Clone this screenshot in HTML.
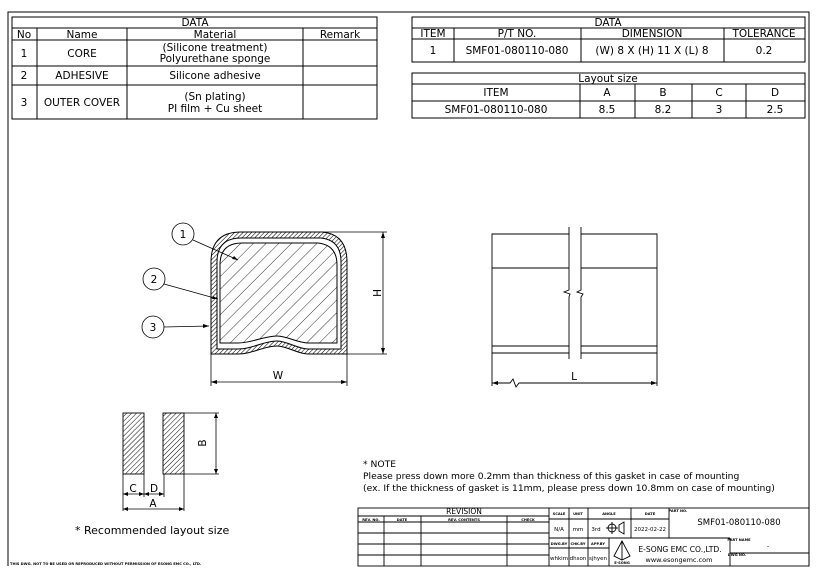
<!DOCTYPE html>
<html><head><meta charset="utf-8"><style>
html,body{margin:0;padding:0;background:#fff;}
svg{display:block;}
text{font-family:"DejaVu Sans","Liberation Sans",sans-serif;fill:#000;}
</style></head><body>
<svg width="820" height="568" viewBox="0 0 820 568" xmlns="http://www.w3.org/2000/svg">
<defs>
<pattern id="fine" patternUnits="userSpaceOnUse" width="3" height="3" patternTransform="rotate(45)">
<line x1="0" y1="0" x2="0" y2="3" stroke="#000" stroke-width="1.1"/></pattern>
<pattern id="wide" patternUnits="userSpaceOnUse" width="9" height="9" patternTransform="rotate(45)">
<line x1="0" y1="0" x2="0" y2="9" stroke="#000" stroke-width="0.8"/></pattern>
<pattern id="pad" patternUnits="userSpaceOnUse" width="3.5" height="3.5" patternTransform="rotate(45)">
<line x1="0" y1="0" x2="0" y2="3.5" stroke="#000" stroke-width="1"/></pattern>
</defs>
<rect width="820" height="568" fill="#fff"/>
<path d="M8,566 L8,12 L809,12 L809,566" fill="none" stroke="#000" stroke-width="1"/>

<g stroke="#000" stroke-width="1" fill="none">
<rect x="12" y="17" width="365" height="102"/>
<line x1="12" y1="28" x2="377" y2="28"/>
<line x1="12" y1="40" x2="377" y2="40"/>
<line x1="12" y1="66" x2="377" y2="66"/>
<line x1="12" y1="85" x2="377" y2="85"/>
<line x1="37" y1="28" x2="37" y2="119"/>
<line x1="127" y1="28" x2="127" y2="119"/>
<line x1="303" y1="28" x2="303" y2="119"/>
<rect x="412" y="17" width="393" height="45"/>
<line x1="412" y1="28" x2="805" y2="28"/>
<line x1="412" y1="39" x2="805" y2="39"/>
<line x1="454" y1="28" x2="454" y2="62"/>
<line x1="581" y1="28" x2="581" y2="62"/>
<line x1="724" y1="28" x2="724" y2="62"/>
<rect x="412" y="73" width="393" height="45"/>
<line x1="412" y1="84" x2="805" y2="84"/>
<line x1="412" y1="101" x2="805" y2="101"/>
<line x1="580" y1="84" x2="580" y2="118"/>
<line x1="635" y1="84" x2="635" y2="118"/>
<line x1="692" y1="84" x2="692" y2="118"/>
<line x1="746" y1="84" x2="746" y2="118"/>
</g>
<g font-size="10.5" text-anchor="middle">
<text x="195" y="26">DATA</text>
<text x="24" y="38">No</text><text x="82" y="38">Name</text><text x="215" y="38">Material</text><text x="340" y="38">Remark</text>
<text x="24" y="57">1</text><text x="82" y="57">CORE</text>
<text x="215" y="51">(Silicone treatment)</text><text x="215" y="62">Polyurethane sponge</text>
<text x="24" y="79">2</text><text x="82" y="79">ADHESIVE</text><text x="215" y="79">Silicone adhesive</text>
<text x="24" y="106">3</text><text x="82" y="106">OUTER COVER</text>
<text x="215" y="100">(Sn plating)</text><text x="215" y="112">PI film + Cu sheet</text>
<text x="608" y="26">DATA</text>
<text x="433" y="37">ITEM</text><text x="517" y="37">P/T NO.</text><text x="652" y="37">DIMENSION</text><text x="764" y="37">TOLERANCE</text>
<text x="433" y="54">1</text><text x="517" y="54">SMF01-080110-080</text><text x="652" y="54">(W) 8 X (H) 11 X (L) 8</text><text x="764" y="54">0.2</text>
<text x="608" y="82">Layout size</text>
<text x="496" y="96">ITEM</text><text x="607" y="96">A</text><text x="663" y="96">B</text><text x="719" y="96">C</text><text x="775" y="96">D</text>
<text x="496" y="113">SMF01-080110-080</text><text x="607" y="113">8.5</text><text x="663" y="113">8.2</text><text x="719" y="113">3</text><text x="775" y="113">2.5</text>
</g>

<path fill-rule="evenodd" fill="url(#fine)" stroke="#000" stroke-width="1"
 d="M211,354 L211,262 Q211,232 241,232 L322,232 Q347,234 347,262 L347,354 L308,354 C298,354 287,346 277,346 C264,346 252,354 238,354 Z
 M217,349 L217,262 Q217,238 241,238 L321,238 Q341,240 341,262 L341,349 L308,349 C298,349 287,341 277,341 C264,341 252,349 238,349 Z"/>
<path fill="url(#wide)" stroke="#000" stroke-width="1"
 d="M220,343 L220,265 Q220,243 242,243 L318,243 Q337,245 337,265 L337,343 L308,343 C298,343 287,336 277,336 C264,336 252,343 238,343 Z"/>
<g stroke="#000" stroke-width="0.8" fill="none">
<line x1="322" y1="232" x2="387" y2="232"/>
<line x1="347" y1="354" x2="387" y2="354"/>
<line x1="383" y1="232" x2="383" y2="354"/>
<line x1="211" y1="354" x2="211" y2="386"/>
<line x1="347" y1="354" x2="347" y2="386"/>
<line x1="211" y1="382" x2="347" y2="382"/>
<circle cx="183" cy="234" r="11"/><circle cx="154" cy="279" r="11"/><circle cx="153" cy="327" r="11"/>
<line x1="193" y1="240" x2="238" y2="260"/>
<line x1="164" y1="284" x2="218" y2="299"/>
<line x1="164" y1="327" x2="209" y2="326"/>
</g>
<g fill="#000">
<path d="M383,232 l-2,6 l4,0z"/><path d="M383,354 l-2,-6 l4,0z"/>
<path d="M211,382 l6,-2 l0,4z"/><path d="M347,382 l-6,-2 l0,4z"/>
<path d="M238,260 l-6,-1 l2,-3z"/><path d="M218,299 l-6,0 l1,-3z"/><path d="M209,326 l-6,-2 l0,4z"/>
</g>
<g font-size="10.5" text-anchor="middle">
<text x="183" y="238">1</text><text x="154" y="283">2</text><text x="153" y="331">3</text>
<text x="278" y="379">W</text>
<text transform="translate(373,293) rotate(90)" x="0" y="0">H</text>
</g>

<g stroke="#000" stroke-width="0.9" fill="none">
<path d="M569,234 L492,234 L492,353 L569,353 M569,268 L492,268 M569,346 L492,346"/>
<path d="M581,234 L657,234 L657,353 L581,353 M581,268 L657,268 M581,346 L657,346"/>
<path d="M569,227 L569,290 L564,292 L570,294 L569,297 L569,359"/>
<path d="M581,227 L581,290 L577,292 L583,294 L581,297 L581,359"/>
<line x1="492" y1="353" x2="492" y2="386"/><line x1="657" y1="353" x2="657" y2="386"/>
<path d="M492,383 L510,383 L513,379 L516,387 L519,383 L657,383"/>
</g>
<g fill="#000"><path d="M492,383 l6,-2 l0,4z"/><path d="M657,383 l-6,-2 l0,4z"/></g>
<text x="574" y="380" font-size="10.5" text-anchor="middle">L</text>

<rect x="123" y="413" width="21" height="61" fill="url(#pad)" stroke="#000" stroke-width="0.9"/>
<rect x="163" y="413" width="21" height="61" fill="url(#pad)" stroke="#000" stroke-width="0.9"/>
<g stroke="#000" stroke-width="0.8" fill="none">
<line x1="184" y1="413" x2="219" y2="413"/><line x1="184" y1="474" x2="219" y2="474"/>
<line x1="216" y1="413" x2="216" y2="474"/>
<line x1="123" y1="474" x2="123" y2="511"/><line x1="144" y1="474" x2="144" y2="497"/>
<line x1="164" y1="474" x2="164" y2="497"/><line x1="184" y1="474" x2="184" y2="511"/>
<line x1="123" y1="494" x2="164" y2="494"/><line x1="123" y1="509" x2="184" y2="509"/>
</g>
<g fill="#000">
<path d="M216,413 l-2,5 l4,0z"/><path d="M216,474 l-2,-5 l4,0z"/>
<path d="M123,494 l5,-2 l0,4z"/><path d="M144,494 l-5,-2 l0,4z"/><path d="M144,494 l5,-2 l0,4z"/><path d="M164,494 l-5,-2 l0,4z"/>
<path d="M123,509 l5,-2 l0,4z"/><path d="M184,509 l-5,-2 l0,4z"/>
</g>
<g font-size="10.5" text-anchor="middle">
<text x="133" y="492">C</text><text x="154" y="492">D</text><text x="153" y="507">A</text>
<text transform="translate(206,443) rotate(-90)">B</text>
</g>
<text x="75" y="534" font-size="11">* Recommended layout size</text>
<text x="10" y="565" font-size="3.6" font-weight="bold">THIS DWG. NOT TO BE USED OR REPRODUCED WITHOUT PERMISSION OF ESONG EMC CO., LTD.</text>

<g font-size="9.2">
<text x="363" y="467">* NOTE</text>
<text x="363" y="479">Please press down more 0.2mm than thickness of this gasket in case of mounting</text>
<text x="363" y="491">(ex. If the thickness of gasket is 11mm, please press down 10.8mm on case of mounting)</text>
</g>

<g stroke="#000" stroke-width="0.9" fill="none">
<rect x="358" y="508" width="451" height="58"/>
<line x1="358" y1="516" x2="549" y2="516"/>
<line x1="358" y1="522" x2="549" y2="522"/>
<line x1="358" y1="533" x2="549" y2="533"/>
<line x1="358" y1="544" x2="549" y2="544"/>
<line x1="358" y1="555" x2="549" y2="555"/>
<line x1="384" y1="516" x2="384" y2="566"/>
<line x1="421" y1="516" x2="421" y2="566"/>
<line x1="507" y1="516" x2="507" y2="566"/>
<line x1="549" y1="508" x2="549" y2="566"/>
<line x1="549" y1="519" x2="669" y2="519"/>
<line x1="549" y1="538" x2="730" y2="538"/>
<line x1="549" y1="548" x2="609" y2="548"/>
<line x1="569" y1="508" x2="569" y2="566"/>
<line x1="588" y1="508" x2="588" y2="566"/>
<line x1="631" y1="508" x2="631" y2="538"/>
<line x1="609" y1="538" x2="609" y2="566"/>
<line x1="669" y1="508" x2="669" y2="538"/>
<line x1="730" y1="538" x2="730" y2="566"/>
<line x1="730" y1="553" x2="809" y2="553"/>
<circle cx="612" cy="528" r="4"/><line x1="606" y1="528" x2="618" y2="528"/><line x1="612" y1="522" x2="612" y2="534"/>
<path d="M619,525 L624,522 L624,534 L619,531 Z"/>
<path d="M622,541 L614,556 L622,560 L630,556 Z M622,541 L622,560"/>
</g>
<g font-size="3.6" font-weight="bold" text-anchor="middle">
<text x="371" y="521">REV. NO.</text><text x="402" y="521">DATE</text><text x="464" y="521">REV. CONTENTS</text><text x="528" y="521">CHECK</text>
<text x="559" y="515">SCALE</text><text x="578" y="515">UNIT</text><text x="609" y="515">ANGLE</text><text x="650" y="515">DATE</text>
<text x="559" y="545">DWG.BY</text><text x="578" y="545">CHK.BY</text><text x="598" y="545">APP.BY</text>
<text x="678" y="512">PART NO.</text><text x="739" y="541">PART NAME</text><text x="737" y="556">DWG NO.</text>
<text x="622" y="564">E-SONG</text>
</g>
<g font-size="6.5" text-anchor="middle" fill="#000">
<text x="464" y="514" font-size="7.5">REVISION</text>
<text x="559" y="531" font-size="5.5">N/A</text><text x="578" y="531" font-size="5.5">mm</text><text x="596" y="531" font-size="5.5">3rd</text>
<text x="650" y="531" font-size="5.5">2022-02-22</text>
<text x="739" y="525" font-size="8.5">SMF01-080110-080</text>
<text x="559" y="560" font-size="5.5">whkim</text><text x="578" y="560" font-size="5.5">dhson</text><text x="598" y="560" font-size="5.5">sjhyen</text>
<text x="680" y="552" font-size="7.6">E-SONG EMC CO.,LTD.</text>
<text x="679" y="562" font-size="6.5">www.esongemc.com</text>
<text x="768" y="548">-</text>
</g>
</svg>
</body></html>
